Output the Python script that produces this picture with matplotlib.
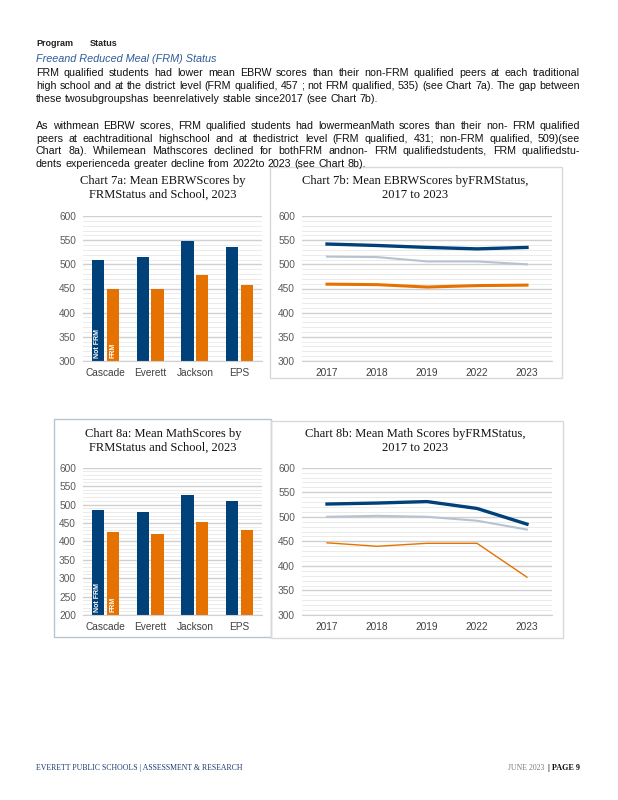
import numpy as np
import matplotlib
matplotlib.use('Agg')
import matplotlib.pyplot as plt
from matplotlib.patches import Rectangle
from matplotlib.ticker import MultipleLocator

# data
schools = ['Cascade', 'Everett', 'Jackson', 'EPS']
ebrw_notfrm = [509, 516, 549, 535]
ebrw_frm = [450, 448, 477, 457]
math_notfrm = [485, 480, 525, 509]
math_frm = [425, 420, 452, 431]

years = ['2017', '2018', '2019', '2022', '2023']
ebrw_trend_notfrm = [542, 539, 535, 532, 535]
ebrw_trend_all = [516, 515, 506, 506, 500]
ebrw_trend_frm = [459, 458, 453, 456, 457]
math_trend_notfrm = [526, 528, 531, 517, 485]
math_trend_all = [500, 502, 500, 492, 474]
math_trend_frm = [447, 440, 446, 446, 377]

para1 = ["FRM qualified  students had lower mean EBRW  scores than their non-FRM  qualified  peers at each traditional",
         "high school and at the district level (FRM  qualified, 457 ; not FRM  qualified, 535) (see Chart 7a). The gap between",
         "these twosubgroupshas  beenrelatively  stable since2017  (see Chart 7b)."]
para2 = ["As withmean EBRW  scores, FRM  qualified students had lowermeanMath  scores than their non- FRM  qualified",
         "peers at eachtraditional  highschool and at thedistrict level (FRM  qualified,    431; non-FRM  qualified, 509)(see",
         "Chart 8a). Whilemean  Mathscores declined  for bothFRM  andnon-   FRM  qualifiedstudents, FRM  qualifiedstu-",
         "dents experienceda greater decline  from 2022to 2023  (see Chart 8b)."]

BLUE = '#00417A'
ORANGE = '#E57200'
GRAY = '#B7C3D0'
W, H = 618, 800

plt.rcParams['font.family'] = ['Liberation Sans', 'DejaVu Sans']
fig = plt.figure(figsize=(W / 100, H / 100), dpi=100)
r = fig.canvas.get_renderer()


def fx(px):
    return px / W


def fy(py):
    return 1 - py / H


def text_line(line, py, justify, x0=36, x1=580):
    words = line.split()
    ts = [fig.text(0, fy(py), w, fontsize=7.7, va='center', color='#111111') for w in words]
    ws = [t.get_window_extent(r).width for t in ts]
    if justify:
        gap = (x1 - x0 - sum(ws)) / (len(words) - 1)
    else:
        gap = fig.text(0, 0, ' ', fontsize=7.7).get_window_extent(r).width
    x = x0
    for t, w in zip(ts, ws):
        t.set_x(fx(x))
        x += w + gap


# header
fig.text(fx(36), fy(44), 'Program', fontsize=6.5, weight='bold', color='#222222',
         family=['Liberation Sans Narrow', 'Liberation Sans'], va='center')
fig.text(fx(90), fy(44), 'Status', fontsize=6.5, weight='bold', color='#222222',
         family=['Liberation Sans Narrow', 'Liberation Sans'], va='center')
fig.text(fx(36), fy(59), 'Freeand Reduced Meal (FRM) Status', fontsize=7.8, style='italic',
         color='#2F5C9A', va='center')

for i, line in enumerate(para1):
    text_line(line, 73 + i * 13, i < len(para1) - 1)
for i, line in enumerate(para2):
    text_line(line, 126 + i * 12.6, i < len(para2) - 1)

# chart boxes
for (x0, y0, x1, y1, c) in [(270, 167, 562, 378, '#D9D9D9'), (54, 419, 271, 637, '#B8C4D0'),
                            (271, 421, 563, 638, '#D9D9D9')]:
    fig.patches.append(Rectangle((fx(x0), fy(y1)), fx(x1) - fx(x0), fy(y0) - fy(y1), fill=False,
                                 edgecolor=c, lw=1, transform=fig.transFigure))


def style_axes(ax, lo, hi, cats):
    ax.set_ylim(lo, hi)
    ax.set_xlim(-0.5, len(cats) - 0.5)
    ax.yaxis.set_major_locator(MultipleLocator(50))
    ax.yaxis.set_minor_locator(MultipleLocator(10))
    ax.grid(axis='y', which='major', color='#D0D0D0', lw=1)
    ax.grid(axis='y', which='minor', color='#EBEBEB', lw=0.7)
    ax.set_axisbelow(True)
    for s in ['top', 'right', 'left']:
        ax.spines[s].set_visible(False)
    ax.spines['bottom'].set_color('#D0D0D0')
    ax.tick_params(which='both', length=0, labelsize=7.3, labelcolor='#595959', pad=5)
    ax.set_xticks(range(len(cats)))
    ax.set_xticklabels(cats, fontsize=7.3, color='#404040')
    ax.patch.set_alpha(0)


def bar_chart(rect, lo, hi, notfrm, frm, title, tx, ty):
    ax = fig.add_axes(rect)
    x = np.arange(len(schools))
    ax.bar(x - 0.165, np.array(notfrm) - lo, 0.27, bottom=lo, color=BLUE)
    ax.bar(x + 0.165, np.array(frm) - lo, 0.27, bottom=lo, color=ORANGE)
    style_axes(ax, lo, hi, schools)
    ax.text(-0.165, lo + (hi - lo) * 0.02, 'Not FRM', rotation=90, color='white', fontsize=5,
            weight='bold', ha='center', va='bottom')
    ax.text(0.165, lo + (hi - lo) * 0.02, 'FRM', rotation=90, color='white', fontsize=5,
            weight='bold', ha='center', va='bottom')
    fig.text(fx(tx), fy(ty), title, family=['Liberation Serif'], fontsize=9, ha='center',
             va='center', linespacing=1.25, color='#111111')
    return ax


def line_chart(rect, lo, hi, notfrm, allst, frm, title, tx, ty, thin):
    ax = fig.add_axes(rect)
    x = np.arange(len(years))
    ax.plot(x, notfrm, color=BLUE, lw=2.4)
    ax.plot(x, allst, color=GRAY, lw=1.5)
    ax.plot(x, frm, color=ORANGE, lw=1.0 if thin else 2.2)
    style_axes(ax, lo, hi, years)
    fig.text(fx(tx), fy(ty), title, family=['Liberation Serif'], fontsize=9, ha='center',
             va='center', linespacing=1.25, color='#111111')
    return ax


bar_chart([fx(83), fy(361), fx(262) - fx(83), fy(216) - fy(361)], 300, 600, ebrw_notfrm, ebrw_frm,
          'Chart 7a: Mean EBRWScores by\nFRMStatus and School, 2023', 163, 188)
line_chart([fx(302), fy(361), fx(552) - fx(302), fy(216) - fy(361)], 300, 600,
           ebrw_trend_notfrm, ebrw_trend_all, ebrw_trend_frm,
           'Chart 7b: Mean EBRWScores byFRMStatus,\n2017 to 2023', 415, 188, False)
bar_chart([fx(83), fy(615), fx(262) - fx(83), fy(467.7) - fy(615)], 200, 600, math_notfrm, math_frm,
          'Chart 8a: Mean MathScores by\nFRMStatus and School, 2023', 163, 441)
line_chart([fx(302), fy(615), fx(552) - fx(302), fy(467.7) - fy(615)], 300, 600,
           math_trend_notfrm, math_trend_all, math_trend_frm,
           'Chart 8b: Mean Math Scores byFRMStatus,\n2017 to 2023', 415, 441, True)

# footer
fig.text(fx(36), fy(768), 'EVERETT PUBLIC SCHOOLS | ASSESSMENT & RESEARCH', family=['Liberation Serif'],
         fontsize=5.6, color='#1F3A6E', va='center')
t = fig.text(fx(580), fy(768), '| PAGE 9', family=['Liberation Serif'], fontsize=5.9, weight='bold',
             color='#111111', va='center', ha='right')
wpx = t.get_window_extent(r).width
fig.text(fx(580 - wpx - 2), fy(768), 'JUNE 2023 ', family=['Liberation Serif'], fontsize=5.6,
         color='#7A7A7A', va='center', ha='right')

fig.savefig('out.png', dpi=100)
plt.close()
